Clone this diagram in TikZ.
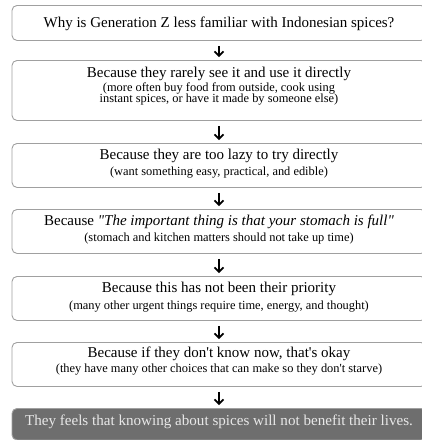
\documentclass[tikz,border=0pt]{standalone}
\usepackage{fontspec}
\setmainfont{Liberation Serif}[Ligatures=TeXOff]
\usetikzlibrary{arrows.meta}
\definecolor{boxline}{HTML}{A0A0A0}
\definecolor{darkfill}{HTML}{6E6E6E}
\definecolor{lighttext}{HTML}{E8E8E8}
\begin{document}
\begin{tikzpicture}[x=1pt,y=1pt,
  box/.style={draw=boxline, line width=0.9pt, rounded corners=5pt, anchor=north,
    minimum width=414pt, inner sep=0pt},
  lastbox/.style={box, fill=darkfill},
  maintext/.style={anchor=base, inner sep=0pt, font=\fontsize{15}{17}\selectfont},
  subtext/.style={anchor=base, inner sep=0pt, font=\fontsize{12.4}{14}\selectfont},
  lasttext/.style={maintext, text=lighttext, font=\fontsize{15.1}{17}\selectfont},
  flow/.style={line width=1.6pt, -{Straight Barb[length=4.5pt,width=9pt,line width=1.6pt]},
    shorten <=5pt, shorten >=3pt}]
\useasboundingbox (0,0) rectangle (422,-440);
\begin{scope}
\clip (0,0) rectangle (422,-440);
% boxes
\node[box, minimum height=35pt] (b1) at (219,-5) {};
\node[box, minimum height=60pt] (b2) at (219,-60) {};
\node[box, minimum height=44pt] (b3) at (219,-143) {};
\node[box, minimum height=44pt] (b4) at (219,-209) {};
\node[box, minimum height=44pt] (b5) at (219,-276) {};
\node[box, minimum height=44pt] (b6) at (219,-342) {};
\node[lastbox, minimum height=31.5pt] (b7) at (219,-408) {};
\end{scope}
% texts
\node[maintext] (t1) at (219,-27.5)
  {Why is Generation Z less familiar with Indonesian spices?};
\node[maintext] (t2) at (219,-77)
  {Because they rarely see it and use it directly};
\node[subtext] (t2a) at (219,-91.5)
  {(more often buy food from outside, cook using};
\node[subtext] (t2b) at (219,-102.5)
  {instant spices, or have it made by someone else)};
\node[maintext] (t3) at (219,-159.5)
  {Because they are too lazy to try directly};
\node[subtext] (t3a) at (219,-175.5)
  {(want something easy, practical, and edible)};
\node[maintext] (t4) at (219,-225.5)
  {Because \textit{"The important thing is that your stomach is full"}};
\node[subtext] (t4a) at (219,-241.5)
  {(stomach and kitchen matters should not take up time)};
\node[maintext] (t5) at (219,-292.5)
  {Because this has not been their priority};
\node[subtext] (t5a) at (219,-309)
  {(many other urgent things require time, energy, and thought)};
\node[maintext] (t6) at (219,-357.5)
  {Because if they don't know now, that's okay};
\node[subtext] (t6a) at (219,-372.5)
  {(they have many other choices that can make so they don't starve)};
\node[lasttext] (t7) at (219,-425)
  {They feels that knowing about spices will not benefit their lives.};
% connectors
\draw[flow] (b1.south) -- (b2.north);
\draw[flow] (b2.south) -- (b3.north);
\draw[flow] (b3.south) -- (b4.north);
\draw[flow] (b4.south) -- (b5.north);
\draw[flow] (b5.south) -- (b6.north);
\draw[flow] (b6.south) -- (b7.north);
\end{tikzpicture}
\end{document}
